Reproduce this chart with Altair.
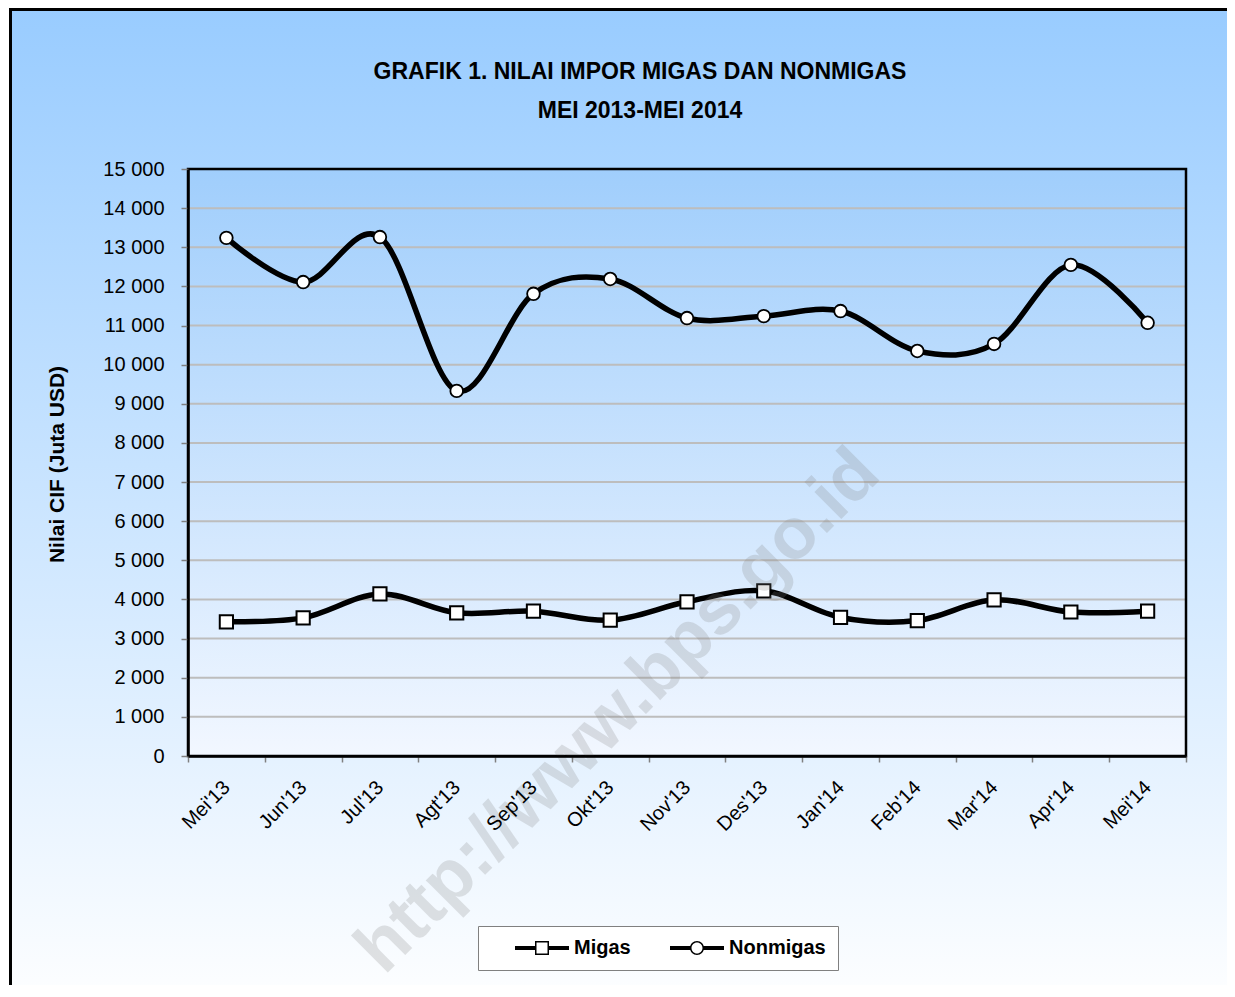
import altair as alt
import pandas as pd

# ---------------- data ----------------
months = ["Mei'13", "Jun'13", "Jul'13", "Agt'13", "Sep'13", "Okt'13", "Nov'13",
          "Des'13", "Jan'14", "Feb'14", "Mar'14", "Apr'14", "Mei'14"]
migas = [3430, 3530, 4140, 3660, 3700, 3470, 3940, 4220, 3540, 3460, 3990, 3680, 3700]
nonmigas = [13240, 12110, 13260, 9330, 11810, 12190, 11190, 11240, 11370, 10350, 10530, 12550, 11070]
series_names = ["Migas", "Nonmigas"]
y_ticks = [0, 1000, 2000, 3000, 4000, 5000, 6000, 7000, 8000, 9000, 10000,
           11000, 12000, 13000, 14000, 15000]
grid_values = [1000, 2000, 3000, 4000, 5000, 6000, 7000, 8000, 9000, 10000,
               11000, 12000, 13000, 14000]

title_lines = ["GRAFIK 1. NILAI IMPOR MIGAS DAN NONMIGAS", "MEI 2013-MEI 2014"]
y_title = "Nilai CIF (Juta USD)"
watermark = "http://www.bps.go.id"

df = pd.DataFrame({
    "month": months * 2,
    "series": [series_names[0]] * len(months) + [series_names[1]] * len(months),
    "value": migas + nonmigas,
})
grid_df = pd.DataFrame({"value": grid_values})
one = alt.Data(values=[{}])

FONT = "Liberation Sans"

# ---------------- encodings ----------------
x_enc = alt.X(
    "month:N", sort=months,
    scale=alt.Scale(type="band", paddingInner=0, paddingOuter=0),
    bandPosition=0.5,
    axis=alt.Axis(
        title=None, labelAngle=315, labelAlign="right", labelBaseline="middle",
        labelFont=FONT, labelFontSize=20, labelColor="black", labelPadding=22,
        tickBand="extent", tickSize=6, tickColor="#808080", tickWidth=1.5,
        domainColor="black", domainWidth=2.5, grid=False, zindex=1,
    ),
)
y_enc = alt.Y(
    "value:Q",
    scale=alt.Scale(domain=[0, 15000], nice=False, zero=True),
    axis=alt.Axis(
        values=y_ticks,
        labelExpr="replace(format(datum.value, ','), ',', ' ')",
        labelFont=FONT, labelFontSize=20, labelColor="black", labelPadding=17,
        tickSize=7, tickColor="#808080", tickWidth=1.5,
        domainColor="black", domainWidth=2.5, grid=False, zindex=1,
        title=y_title, titleFont=FONT, titleFontSize=21, titleFontWeight="bold",
        titleColor="black", titleAngle=270, titleX=-131, titleY=295,
        titleAlign="center", titleBaseline="middle",
    ),
)

# ---------------- layers ----------------
outer_bg = alt.Chart(one).mark_rect(
    fill=alt.LinearGradient(
        gradient="linear", x1=0, x2=0, y1=0, y2=1,
        stops=[alt.GradientStop(color="#99CCFF", offset=0),
               alt.GradientStop(color="#FFFFFF", offset=1)],
    ),
    stroke="black", strokeWidth=3,
).encode(x=alt.value(-177.5), x2=alt.value(1070), y=alt.value(-159.5), y2=alt.value(850))

plot_bg = alt.Chart(one).mark_rect(
    fill=alt.LinearGradient(
        gradient="linear", x1=0, x2=0, y1=0, y2=1,
        stops=[alt.GradientStop(color="#A0CEFC", offset=0),
               alt.GradientStop(color="#F2F7FF", offset=1)],
    ),
).encode(x=alt.value(0), x2=alt.value("width"), y=alt.value(0), y2=alt.value("height"))

grid = alt.Chart(grid_df).mark_rule(color="#BDBDBD", strokeWidth=2).encode(
    y=y_enc, x=alt.value(0), x2=alt.value("width"))

lines = alt.Chart(df).mark_line(
    interpolate="cardinal", color="black", strokeWidth=5.5,
).encode(x=x_enc, y=y_enc, detail="series:N")

squares = alt.Chart(df).transform_filter(
    alt.datum.series == series_names[0]
).mark_point(shape="square", filled=True, fill="white", stroke="black",
             strokeWidth=2, size=175, opacity=1).encode(x=x_enc, y=y_enc)

circles = alt.Chart(df).transform_filter(
    alt.datum.series == series_names[1]
).mark_point(shape="circle", filled=True, fill="white", stroke="black",
             strokeWidth=1.8, size=160, opacity=1).encode(x=x_enc, y=y_enc)

# legend symbols: line - hollow marker - line, drawn as filled outlines
# (unit = 10 px at symbolSize 400; inner contour wound the other way = hole)
sq_path = ("M-2.7,-0.2H-0.7V0.2H-2.7Z "
           "M-0.7,-0.7H0.7V0.7H-0.7Z M-0.55,-0.55V0.55H0.55V-0.55Z "
           "M0.7,-0.2H2.7V0.2H0.7Z")
ci_path = ("M-2.7,-0.2H-0.68V0.2H-2.7Z "
           "M-0.7,0A0.7,0.7,0,1,1,0.7,0A0.7,0.7,0,1,1,-0.7,0Z "
           "M-0.55,0A0.55,0.55,0,1,0,0.55,0A0.55,0.55,0,1,0,-0.55,0Z "
           "M0.68,-0.2H2.7V0.2H0.68Z")

legend_layer = alt.Chart(df).transform_filter("false").mark_point(
    filled=True, fill="black", strokeWidth=0, opacity=1,
).encode(
    shape=alt.Shape(
        "series:N",
        scale=alt.Scale(domain=series_names, range=[sq_path, ci_path]),
        legend=alt.Legend(
            title=None, orient="none", legendX=290, legendY=757,
            direction="horizontal",
            labelFont=FONT, labelFontSize=20, labelFontWeight="bold",
            labelColor="black", labelOffset=22,
            symbolSize=400, symbolStrokeWidth=0, symbolFillColor="black",
            symbolOffset=42, columnPadding=14,
            padding=12, strokeColor="#808080", fillColor="white",
            cornerRadius=0,
        ),
    )
)

border = alt.Chart(one).mark_rect(
    fill=None, stroke="black", strokeWidth=2.5, fillOpacity=0,
).encode(x=alt.value(0), x2=alt.value("width"), y=alt.value(0), y2=alt.value("height"))

wm = alt.Chart(one).mark_text(
    text=watermark, angle=315, font=FONT, fontSize=72, fontWeight="bold",
    color="#808080", opacity=0.22, align="center", baseline="middle",
).encode(x=alt.value(430), y=alt.value(542))

chart = alt.layer(
    outer_bg, plot_bg, grid, lines, squares, circles, legend_layer, border, wm
).properties(
    width=998, height=587,
    autosize=alt.AutoSizeParams(type="none"),
    padding={"left": 180, "top": 161, "right": 41, "bottom": 229},
    title=alt.TitleParams(
        text=title_lines, font=FONT, fontSize=23, fontWeight="bold",
        color="black", anchor="middle", dx=-47, offset=-115, lineHeight=39,
    ),
).configure(font=FONT).configure_view(stroke=None)

chart.save("out.html", embed_options={"renderer": "svg", "actions": False})
